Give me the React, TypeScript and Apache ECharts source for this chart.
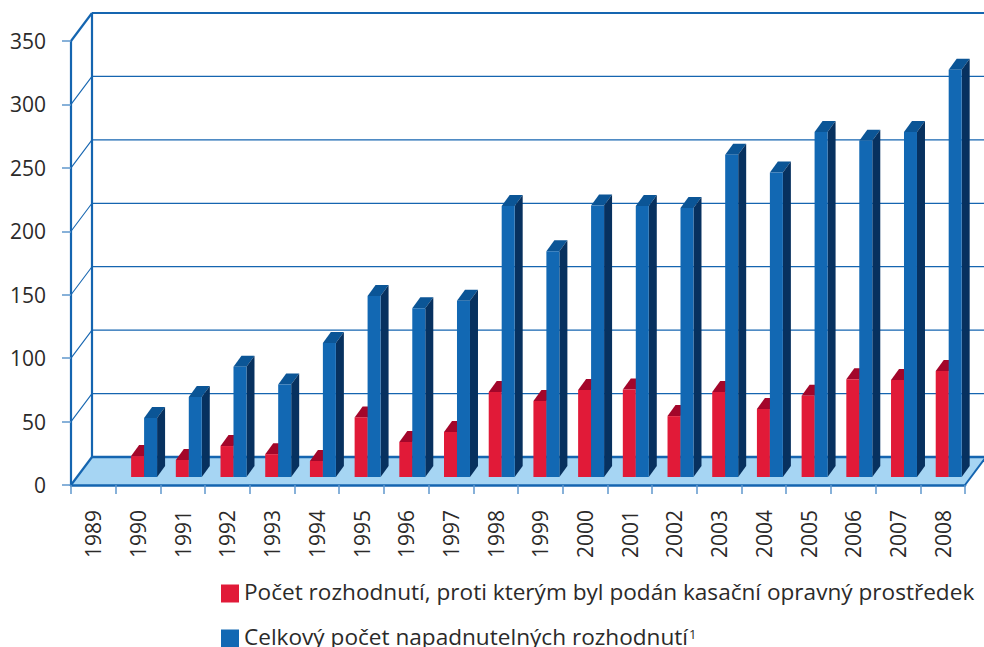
import React, { useEffect, useRef } from "react";
import * as echarts from "echarts";

const years = ["1989","1990","1991","1992","1993","1994","1995","1996","1997","1998","1999","2000","2001","2002","2003","2004","2005","2006","2007","2008"];
const challenged = [null,16.5,13.4,24.4,18,12.6,47,27.6,35.5,67,60,68.6,69,48,67,53.6,64,77,76.5,83.5];
const total = [null,46.5,63,87,73,105.6,142.7,133,139,213.6,178,214,213.6,212,254,240,272,265,272,321];
const yTicks = [0,50,100,150,200,250,300,350];
const redName = "Počet rozhodnutí, proti kterým byl podán kasační opravný prostředek";
const blueName = "Celkový počet napadnutelných rozhodnutí";

const DX = 21, DY = -28;      // depth of the whole box
const BX = 8, BY = -11;       // depth of a bar
const BASE = -8;              // bar base above the front axis
const BLUE_LINE = "#1565b0", SOFT = "#5f97cd", FLOOR = "#a6d5f3";
const FONT = "'Open Sans', sans-serif";

const barRenderer = (startFrac: number, widthPx: number, front: string, top: string, side: string) =>
  (params: any, api: any) => {
    const v = api.value(1);
    if (v == null || isNaN(v)) return { type: "group", children: [] };
    const band = api.size([1, 0])[0];
    const c = api.coord([api.value(0), v]);
    const z = api.coord([api.value(0), 0]);
    const x0 = c[0] - band / 2 + band * startFrac;
    const x1 = x0 + widthPx;
    const yT = c[1] + BASE;
    const yB = z[1] + BASE;
    return {
      type: "group",
      children: [
        { type: "polygon", shape: { points: [[x0, yT], [x1, yT], [x1 + BX, yT + BY], [x0 + BX, yT + BY]] }, style: { fill: top } },
        { type: "polygon", shape: { points: [[x1, yT], [x1 + BX, yT + BY], [x1 + BX, yB + BY], [x1, yB]] }, style: { fill: side } },
        { type: "rect", shape: { x: x0, y: yT, width: widthPx, height: yB - yT }, style: { fill: front } },
      ],
    };
  };

const wallRenderer = (params: any, api: any) => {
  const s = params.coordSys;
  const y = api.coord([0, api.value(0)])[1];
  const l = s.x, r = s.x + s.width;
  const isZero = api.value(0) === 0;
  const isTop = api.value(0) === 350;
  const w = isTop ? 2.2 : isZero ? 2.5 : 1.3;
  const children: any[] = [];
  if (isZero) {
    children.push({ type: "polygon", shape: { points: [[l, y], [r, y], [r + DX, y + DY], [l + DX, y + DY]] }, style: { fill: FLOOR } });
    children.push({ type: "line", shape: { x1: r, y1: y, x2: r + DX, y2: y + DY }, style: { stroke: BLUE_LINE, lineWidth: 2 } });
    children.push({ type: "line", shape: { x1: l + DX, y1: s.y + DY, x2: l + DX, y2: y + DY }, style: { stroke: BLUE_LINE, lineWidth: 2.2 } });
  }
  children.push({ type: "line", shape: { x1: l + DX, y1: y + DY, x2: r + DX, y2: y + DY }, style: { stroke: BLUE_LINE, lineWidth: w } });
  children.push({ type: "line", shape: { x1: l, y1: y, x2: l + DX, y2: y + DY }, style: { stroke: BLUE_LINE, lineWidth: isTop || isZero ? 2.2 : 1.1 } });
  return { type: "group", children };
};

const legendBase = {
  left: 221,
  padding: 0,
  itemWidth: 18,
  itemHeight: 18,
  itemGap: 0,
  icon: "rect",
  selectedMode: false,
  textStyle: {
    fontSize: 22.6,
    lineHeight: 18,
    padding: [0, 0, 4, 0],
    color: "#2b2a29",
    fontFamily: FONT,
    rich: { sup: { fontSize: 13, lineHeight: 18, verticalAlign: "top", padding: [0, 0, 6, 1], color: "#2b2a29", fontFamily: FONT } },
  },
  formatter: (n: string) => (n === blueName ? `${n}{sup|1}` : n),
};

export default function App() {
  const ref = useRef<HTMLDivElement>(null);
  useEffect(() => {
    document.body.style.margin = "0";
    const chart = echarts.init(ref.current!, null, { renderer: "svg" });
    chart.setOption({
      animation: false,
      backgroundColor: "#ffffff",
      textStyle: { fontFamily: FONT },
      grid: { left: 71, top: 41, width: 894, height: 444 },
      xAxis: {
        type: "category",
        data: years,
        boundaryGap: true,
        axisLine: { lineStyle: { color: BLUE_LINE, width: 2.5 } },
        axisTick: { show: true, length: 9, inside: false, lineStyle: { color: SOFT, width: 1.5 } },
        axisLabel: { rotate: 90, interval: 0, margin: 25, fontSize: 21, color: "#2b2a29", fontFamily: FONT },
        z: 1,
      },
      yAxis: {
        type: "value",
        min: 0,
        max: 350,
        interval: 50,
        splitLine: { show: false },
        axisLine: { show: true, lineStyle: { color: BLUE_LINE, width: 2.2 } },
        axisTick: { show: true, length: 9, lineStyle: { color: SOFT, width: 1.5 } },
        axisLabel: { margin: 25, fontSize: 21, color: "#2b2a29", fontFamily: FONT, formatter: (v: number) => (yTicks.includes(v) ? String(v) : "") },
      },
      legend: [
        { ...legendBase, top: 580, data: [redName] },
        { ...legendBase, top: 625, data: [blueName] },
      ],
      series: [
        { type: "custom", name: "walls", silent: true, z: 0, data: yTicks.map((t) => [t]), encode: { y: 0 }, renderItem: wallRenderer },
        {
          type: "custom", name: redName, z: 3, itemStyle: { color: "#e11a38" },
          data: challenged.map((v, i) => [i, v]), encode: { x: 0, y: 1 },
          renderItem: barRenderer(0.345, 13, "#e11a38", "#a3062a", "#7d0522"),
        },
        {
          type: "custom", name: blueName, z: 4, itemStyle: { color: "#1268b3" },
          data: total.map((v, i) => [i, v]), encode: { x: 0, y: 1 },
          renderItem: barRenderer(0.635, 13, "#1268b3", "#0b5596", "#07315f"),
        },
      ],
    });
    return () => chart.dispose();
  }, []);
  return <div ref={ref} style={{ position: "absolute", left: 0, top: 0, width: 984, height: 647 }} />;
}
